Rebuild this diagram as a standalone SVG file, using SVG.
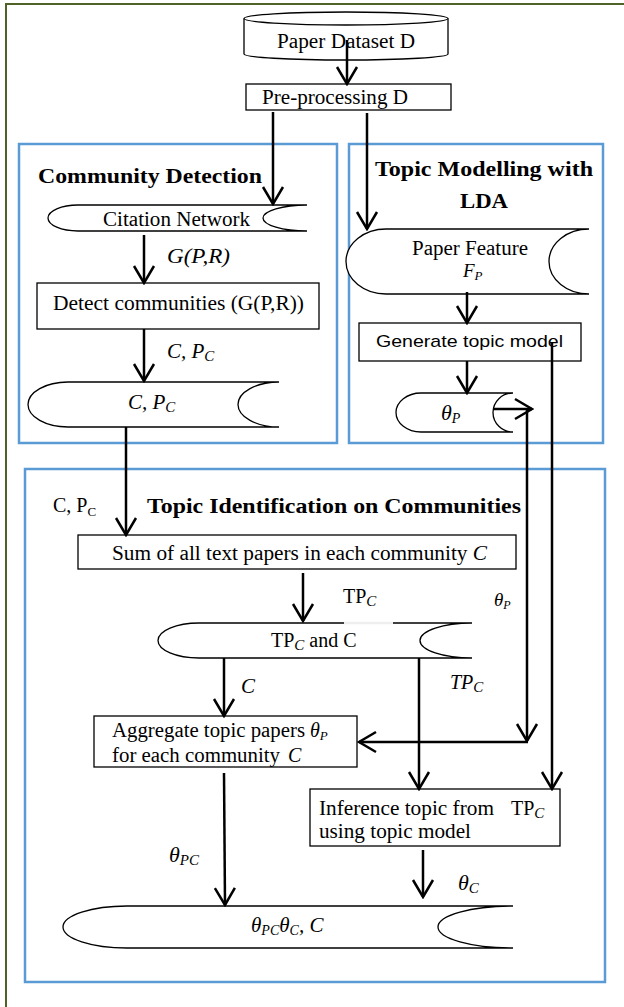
<svg xmlns="http://www.w3.org/2000/svg" width="624" height="1007" viewBox="0 0 624 1007">
<style>
.t{font-family:"Liberation Serif","Times New Roman",serif;font-size:20px;fill:#000}
.h{font-family:"Liberation Serif","Times New Roman",serif;font-size:22px;font-weight:bold;fill:#000}
.s{font-family:"Liberation Sans",Arial,sans-serif;font-size:17px;fill:#000}
.m{font-family:"Liberation Serif","Times New Roman",serif;font-style:italic;fill:#000}
.i{font-style:italic}
.box{fill:#fff;stroke:#000;stroke-width:1.3}
.sd{fill:#fff;stroke:#000;stroke-width:1.3}
.grp{fill:none;stroke:#5b9bd5;stroke-width:2.5}
.c{fill:none;stroke:#000;stroke-width:2.5}
</style>
<defs>
<marker id="ah" viewBox="-20 -12 22 24" refX="0" refY="0" markerWidth="22" markerHeight="24" markerUnits="userSpaceOnUse" orient="auto">
<path d="M-17,-10 L0,0 L-17,10" fill="none" stroke="#000" stroke-width="2.5"/>
</marker>
</defs>
<rect x="0" y="0" width="624" height="1007" fill="#fff"/>
<rect x="6" y="4" width="640" height="1020" fill="none" stroke="#4f6228" stroke-width="2"/>

<g id="grp-community"><rect class="grp" x="19" y="144" width="318" height="299"/></g>
<g id="grp-topicmodel"><rect class="grp" x="349" y="144" width="254" height="299"/></g>
<g id="grp-topicid"><rect class="grp" x="25" y="469" width="580" height="513"/></g>

<g id="n-dataset">
<path class="sd" d="M244,18.5 L244,54 A102,6 0 0 0 448,54 L448,18.5"/>
<ellipse class="sd" cx="346" cy="18.5" rx="102" ry="6.5"/>
<text class="t" x="277" y="48" font-size="22" textLength="138" lengthAdjust="spacingAndGlyphs">Paper Dataset D</text>
</g>
<g id="n-preproc">
<rect class="box" x="246" y="84" width="205" height="26"/>
<text class="t" x="262" y="104" textLength="146" lengthAdjust="spacingAndGlyphs">Pre-processing D</text>
</g>

<g id="h-community"><text class="h" x="38" y="183" textLength="224" lengthAdjust="spacingAndGlyphs">Community Detection</text></g>
<g id="h-topicmodel">
<text class="h" x="375" y="176" textLength="218" lengthAdjust="spacingAndGlyphs">Topic Modelling with</text>
<text class="h" x="460" y="208" textLength="48" lengthAdjust="spacingAndGlyphs">LDA</text>
</g>
<g id="h-topicid"><text class="h" x="147" y="513" textLength="374" lengthAdjust="spacingAndGlyphs">Topic Identification on Communities</text></g>

<g id="n-citation">
<path class="sd" d="M307,205 L78,205 A30,13 0 0 0 78,231 L307,231 M307,205 A44,13 0 0 0 307,231"/>
<text class="t" x="103" y="226" textLength="147" lengthAdjust="spacingAndGlyphs">Citation Network</text>
</g>
<g id="n-detect">
<rect class="box" x="37" y="283" width="282" height="46"/>
<text class="t" x="53" y="310" textLength="251" lengthAdjust="spacingAndGlyphs">Detect communities (G(P,R))</text>
</g>
<g id="n-cpc">
<path class="sd" d="M279,382 L68,382 A40,22.5 0 0 0 68,427 L279,427 M279,382 A41,22.5 0 0 0 279,427"/>
<text class="m" x="128" y="409" font-size="21">C,  P<tspan font-size="15" dy="3">C</tspan></text>
</g>

<g id="n-paperfeature">
<path class="sd" d="M589,229 L386,229 A40,32.5 0 0 0 386,294 L589,294 M589,229 A40,32.5 0 0 0 589,294"/>
<text class="t" x="412" y="255" textLength="116" lengthAdjust="spacingAndGlyphs">Paper Feature</text>
<text class="m" x="463" y="277" font-size="19">F<tspan font-size="13" dy="3">P</tspan></text>
</g>
<g id="n-generate">
<rect class="box" x="359" y="323" width="222" height="38"/>
<text class="s" x="376" y="347" textLength="187" lengthAdjust="spacingAndGlyphs">Generate topic model</text>
</g>
<g id="n-thetap">
<path class="sd" d="M513,393 L421,393 A25,19.5 0 0 0 421,432 L513,432 M513,393 A20,19.5 0 0 0 513,432"/>
<text class="m" x="441" y="420" font-size="22">θ<tspan font-size="14" dy="3">P</tspan></text>
</g>

<g id="n-sum">
<rect class="box" x="78" y="535" width="438" height="34"/>
<text class="t" x="112" y="560" textLength="375" lengthAdjust="spacingAndGlyphs">Sum of all text papers in each community <tspan class="i">C</tspan></text>
</g>
<g id="n-tpc">
<path class="sd" d="M472,623 L199,623 A41,17.5 0 0 0 199,658 L472,658 M472,623 A52,17.5 0 0 0 472,658"/>
<line x1="344" y1="623" x2="393" y2="623" stroke="#eeeeee" stroke-width="2.5"/>
<text class="t" x="271" y="647">TP<tspan class="i" font-size="15" dy="3">C</tspan><tspan dy="-3"> and C</tspan></text>
</g>
<g id="n-aggregate">
<rect class="box" x="94" y="716" width="263" height="51"/>
<text class="t" x="112" y="737" textLength="193" lengthAdjust="spacingAndGlyphs">Aggregate topic papers</text>
<text class="m" x="310" y="737" font-size="20">θ<tspan font-size="13" dy="3">P</tspan></text>
<text class="t" x="112" y="762" textLength="168" lengthAdjust="spacingAndGlyphs">for each community</text>
<text class="m" x="288" y="762" font-size="20">C</text>
</g>
<g id="n-inference">
<rect class="box" x="310" y="789" width="250" height="57"/>
<text class="t" x="319" y="815" textLength="175" lengthAdjust="spacingAndGlyphs">Inference topic from</text>
<text class="t" x="511" y="815">TP<tspan class="i" font-size="15" dy="3">C</tspan></text>
<text class="t" x="319" y="838" textLength="152" lengthAdjust="spacingAndGlyphs">using topic model</text>
</g>
<g id="n-final">
<path class="sd" d="M513,906 L127,906 A64,21 0 0 0 127,948 L513,948 M513,906 A75,21 0 0 0 513,948"/>
<text class="m" x="251" y="932" font-size="21">θ<tspan font-size="14" dy="3">PC</tspan><tspan dy="-3">θ</tspan><tspan font-size="14" dy="3">C</tspan><tspan dy="-3">, C</tspan></text>
</g>

<g id="connectors">
<line class="c" x1="347" y1="40" x2="347" y2="84" marker-end="url(#ah)"/>
<line class="c" x1="273" y1="112" x2="273" y2="204" marker-end="url(#ah)"/>
<line class="c" x1="367" y1="113" x2="367" y2="229" marker-end="url(#ah)"/>
<line class="c" x1="144" y1="235" x2="144" y2="283" marker-end="url(#ah)"/>
<line class="c" x1="144" y1="329" x2="144" y2="381" marker-end="url(#ah)"/>
<line class="c" x1="126" y1="427" x2="126" y2="535" marker-end="url(#ah)"/>
<line class="c" x1="467" y1="292" x2="467" y2="323" marker-end="url(#ah)"/>
<line class="c" x1="467" y1="361" x2="467" y2="393" marker-end="url(#ah)"/>
<line class="c" x1="552" y1="343" x2="552" y2="789" marker-end="url(#ah)"/>
<line class="c" x1="493" y1="409" x2="532" y2="409" marker-end="url(#ah)"/>
<line class="c" x1="527" y1="409" x2="527" y2="741" marker-end="url(#ah)"/>
<line class="c" x1="528" y1="742" x2="359" y2="742" marker-end="url(#ah)"/>
<line class="c" x1="303" y1="573" x2="303" y2="621" marker-end="url(#ah)"/>
<line class="c" x1="224" y1="658" x2="224" y2="716" marker-end="url(#ah)"/>
<line class="c" x1="419" y1="658" x2="419" y2="789" marker-end="url(#ah)"/>
<line class="c" x1="224" y1="773" x2="225" y2="905" marker-end="url(#ah)"/>
<line class="c" x1="423" y1="850" x2="423" y2="897" marker-end="url(#ah)"/>
</g>

<g id="labels">
<text class="m" x="167" y="263" font-size="21" textLength="63" lengthAdjust="spacingAndGlyphs">G(P,R)</text>
<text class="m" x="167" y="358" font-size="21">C,  P<tspan font-size="15" dy="3">C</tspan></text>
<text class="t" x="53" y="512">C, P<tspan font-size="13" dy="4">C</tspan></text>
<text class="t" x="343" y="603">TP<tspan class="i" font-size="15" dy="3">C</tspan></text>
<text class="m" x="494" y="606" font-size="19">θ<tspan font-size="12" dy="3">P</tspan></text>
<text class="m" x="241" y="693" font-size="21">C</text>
<text class="m" x="450" y="689" font-size="20">TP<tspan font-size="15" dy="3">C</tspan></text>
<text class="m" x="169" y="862" font-size="22">θ<tspan font-size="15" dy="3">PC</tspan></text>
<text class="m" x="458" y="890" font-size="22">θ<tspan font-size="15" dy="3">C</tspan></text>
</g>
</svg>
